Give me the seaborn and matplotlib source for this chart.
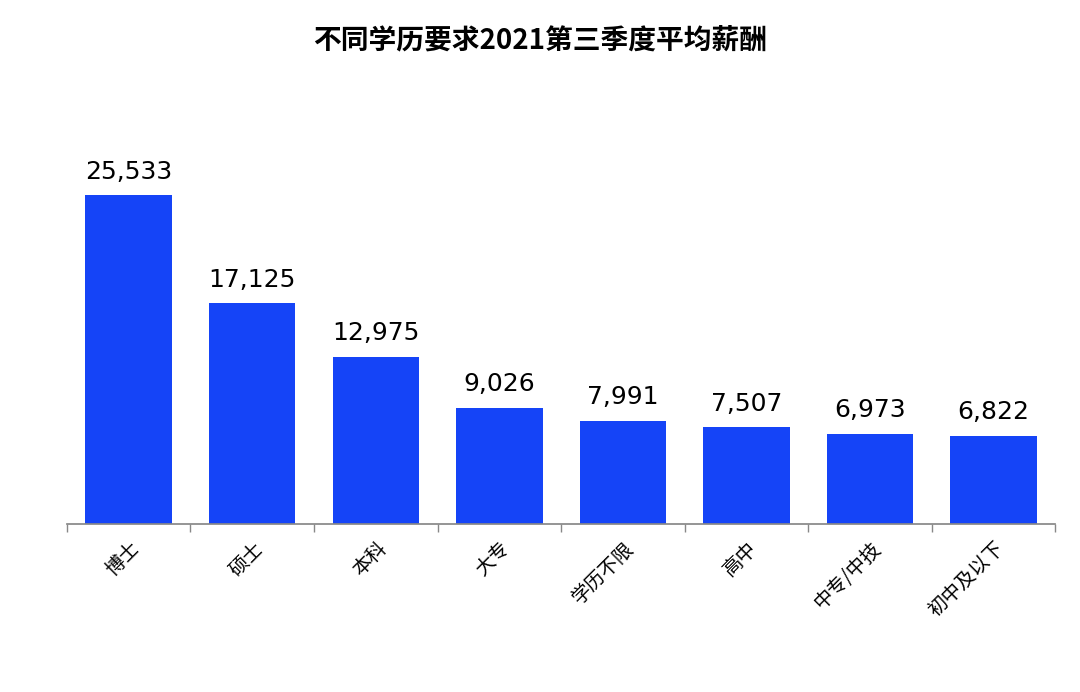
import matplotlib
matplotlib.use("Agg")
import matplotlib.pyplot as plt
import numpy as np
import pandas as pd
import seaborn as sns

categories = ["博士", "硕士", "本科", "大专", "学历不限", "高中", "中专/中技", "初中及以下"]
salaries = [25533, 17125, 12975, 9026, 7991, 7507, 6973, 6822]

sns.set_theme(style="white")
plt.rcParams["font.family"] = ["Noto Sans CJK SC", "DejaVu Sans"]

df = pd.DataFrame({"edu": categories, "salary": salaries})
fig = plt.figure(figsize=(10.8, 6.92), dpi=100)
ax = fig.add_axes([0.062, 0.243, 0.915, 0.612])
sns.barplot(data=df, x="edu", y="salary", color="#1544F7", saturation=1, width=0.7,
            edgecolor="none", linewidth=0, ax=ax)

for i, v in enumerate(salaries):
    ax.text(i, v + 900, f"{v:,}", ha="center", va="bottom", fontsize=18,
            color="black", family=["DejaVu Sans"])

ax.set_xlim(-0.5, len(categories) - 0.5)
ax.set_ylim(0, 32900)
ax.set_yticks([])
ax.set_xlabel("")
ax.set_ylabel("")
for s in ["top", "right", "left"]:
    ax.spines[s].set_visible(False)
ax.spines["bottom"].set_color("#888888")
ax.set_xticks(np.arange(len(categories) + 1) - 0.5, minor=True)
ax.tick_params(axis="x", which="minor", bottom=True, length=6, color="#888888")
ax.tick_params(axis="x", which="major", bottom=False, pad=4)
ax.set_xticklabels(categories, rotation=45, ha="right", rotation_mode="anchor",
                   fontsize=14, color="black")
fig.suptitle("不同学历要求2021第三季度平均薪酬", fontsize=20, fontweight="bold",
             color="black", y=0.962)
fig.savefig("out.png", dpi=100)
